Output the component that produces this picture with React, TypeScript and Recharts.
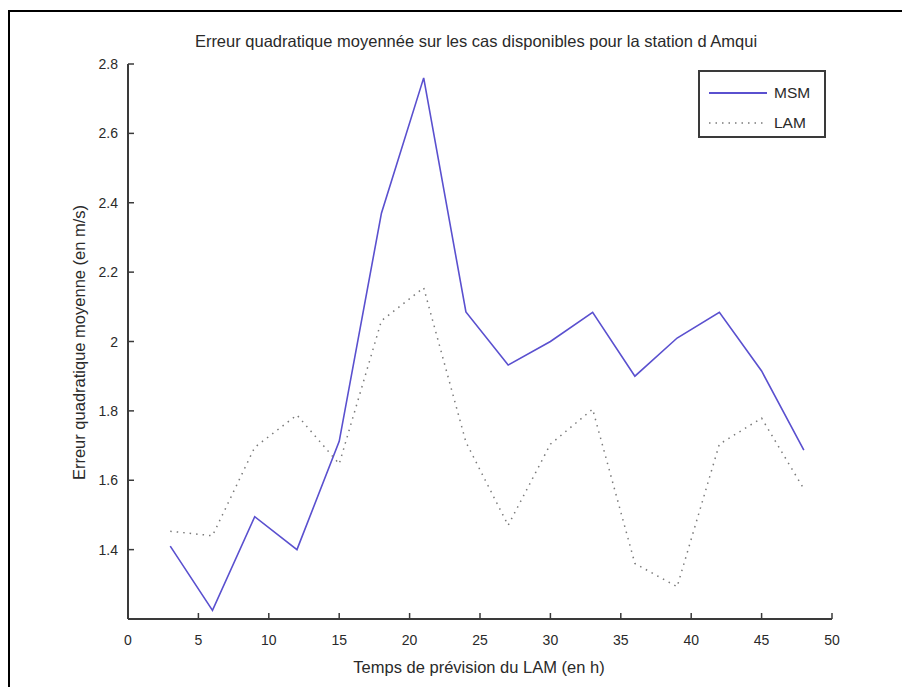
import React from 'react';
import { LineChart, Line, XAxis, YAxis, Legend } from 'recharts';

const hours = [3, 6, 9, 12, 15, 18, 21, 24, 27, 30, 33, 36, 39, 42, 45, 48];
const msm = [1.41, 1.225, 1.495, 1.4, 1.712, 2.37, 2.76, 2.085, 1.932, 2.0, 2.084, 1.9, 2.01, 2.084, 1.915, 1.687];
const lam = [1.453, 1.44, 1.695, 1.788, 1.647, 2.06, 2.155, 1.71, 1.47, 1.704, 1.805, 1.36, 1.293, 1.704, 1.779, 1.575];
const seriesOrder = ['MSM', 'LAM'];
const xTicks = [0, 5, 10, 15, 20, 25, 30, 35, 40, 45, 50];
const yTicks = [1.4, 1.6, 1.8, 2, 2.2, 2.4, 2.6, 2.8];

const title = 'Erreur quadratique moyennée sur les cas disponibles pour la station d Amqui';
const xLabel = 'Temps de prévision du LAM (en h)';
const yLabel = 'Erreur quadratique moyenne (en m/s)';

const data = hours.map((h, i) => ({ h, MSM: msm[i], LAM: lam[i] }));

const FONT = '"Liberation Sans", Arial, Helvetica, sans-serif';
const AXIS_COLOR = '#3a3a3a';
const TEXT_COLOR = '#2a2a2a';
const TICK_MARGIN_Y = 10;
const TICK_MARGIN_X = 21;
const TICK_LEN = 6;

const fmt = (v: number) => String(Math.round(v * 10) / 10);

const YTick = (props: any) => {
  const { x, y, payload } = props;
  const ax = x + TICK_MARGIN_Y;
  return (
    <g>
      <line x1={ax} x2={ax + TICK_LEN} y1={y} y2={y} stroke={AXIS_COLOR} strokeWidth={1.5} />
      <text x={x} y={y} textAnchor="end" dominantBaseline="central" fontSize={14} fontFamily={FONT} fill={TEXT_COLOR}>
        {fmt(payload.value)}
      </text>
    </g>
  );
};

const XTick = (props: any) => {
  const { x, y, payload } = props;
  const ay = y - TICK_MARGIN_X;
  return (
    <g>
      <line x1={x} x2={x} y1={ay} y2={ay - TICK_LEN} stroke={AXIS_COLOR} strokeWidth={1.5} />
      <text x={x} y={y} textAnchor="middle" dominantBaseline="central" fontSize={14} fontFamily={FONT} fill={TEXT_COLOR}>
        {fmt(payload.value)}
      </text>
    </g>
  );
};

const YLabel = (props: any) => {
  const vb = props.viewBox || {};
  const cx = vb.x + 11;
  const cy = vb.y + vb.height / 2 + 1;
  return (
    <text
      x={cx}
      y={cy}
      transform={`rotate(-90, ${cx}, ${cy})`}
      textAnchor="middle"
      dominantBaseline="central"
      fontSize={16.5}
      fontFamily={FONT}
      fill={TEXT_COLOR}
    >
      {yLabel}
    </text>
  );
};

const XLabel = (props: any) => {
  const vb = props.viewBox || {};
  const cx = vb.x + vb.width / 2 - 1;
  const cy = vb.y + 48;
  return (
    <text x={cx} y={cy} textAnchor="middle" dominantBaseline="central" fontSize={16.5} fontFamily={FONT} fill={TEXT_COLOR}>
      {xLabel}
    </text>
  );
};

const LegendBox = (props: any) => {
  const items = [...(props.payload || [])].sort(
    (a: any, b: any) => seriesOrder.indexOf(a.value) - seriesOrder.indexOf(b.value)
  );
  return (
    <div
      style={{
        width: 124,
        height: 64,
        border: `2px solid ${AXIS_COLOR}`,
        background: '#fff',
        boxSizing: 'content-box',
      }}
    >
      {items.map((it: any, i: number) => (
        <div key={i} style={{ display: 'flex', alignItems: 'center', height: 30, marginTop: i === 0 ? 6 : 0 }}>
          <svg width={58} height={10} style={{ marginLeft: 9 }}>
            <line
              x1={0}
              x2={58}
              y1={5}
              y2={5}
              stroke={it.color}
              strokeWidth={it.payload && it.payload.strokeDasharray ? 1.4 : 2}
              strokeDasharray={it.payload && it.payload.strokeDasharray}
            />
          </svg>
          <span style={{ marginLeft: 7, fontFamily: FONT, fontSize: 15.5, color: TEXT_COLOR }}>{it.value}</span>
        </div>
      ))}
    </div>
  );
};

export default function App() {
  return (
    <div style={{ position: 'absolute', left: 0, top: 0, width: 902, height: 687, background: '#fff' }}>
      <div style={{ position: 'absolute', left: 8, top: 10, width: 894, height: 677, borderLeft: '2px solid #000', borderTop: '2px solid #000' }} />
      <div
        style={{
          position: 'absolute',
          left: 0,
          top: 32,
          width: 952,
          textAlign: 'center',
          fontFamily: FONT,
          fontSize: 16.5,
          color: TEXT_COLOR,
          whiteSpace: 'nowrap',
        }}
      >
        {title}
      </div>
      <div style={{ position: 'absolute', left: 0, top: 0 }}>
        <LineChart width={902} height={687} data={data} margin={{ top: 64, right: 70, bottom: 38, left: 68 }}>
          <XAxis
            dataKey="h"
            type="number"
            domain={[0, 50]}
            ticks={xTicks}
            interval={0}
            height={30}
            tickSize={0}
            tickMargin={TICK_MARGIN_X}
            tick={<XTick />}
            tickLine={false}
            axisLine={{ stroke: AXIS_COLOR, strokeWidth: 2 }}
            label={<XLabel />}
          />
          <YAxis
            type="number"
            domain={[1.2, 2.8]}
            ticks={yTicks}
            interval={0}
            width={60}
            tickSize={0}
            tickMargin={TICK_MARGIN_Y}
            tick={<YTick />}
            tickLine={false}
            axisLine={{ stroke: AXIS_COLOR, strokeWidth: 2 }}
            label={<YLabel />}
            allowDataOverflow
          />
          <Legend
            layout="horizontal"
            verticalAlign="middle"
            align="center"
            wrapperStyle={{ left: 698, top: 70, width: 128 }}
            content={<LegendBox />}
          />
          <Line dataKey="MSM" name="MSM" stroke="#5a50cf" strokeWidth={1.6} dot={false} isAnimationActive={false} />
          <Line
            dataKey="LAM"
            name="LAM"
            stroke="#7a7a7a"
            strokeWidth={1.5}
            strokeDasharray="1.5 5"
            dot={false}
            isAnimationActive={false}
          />
        </LineChart>
      </div>
    </div>
  );
}
